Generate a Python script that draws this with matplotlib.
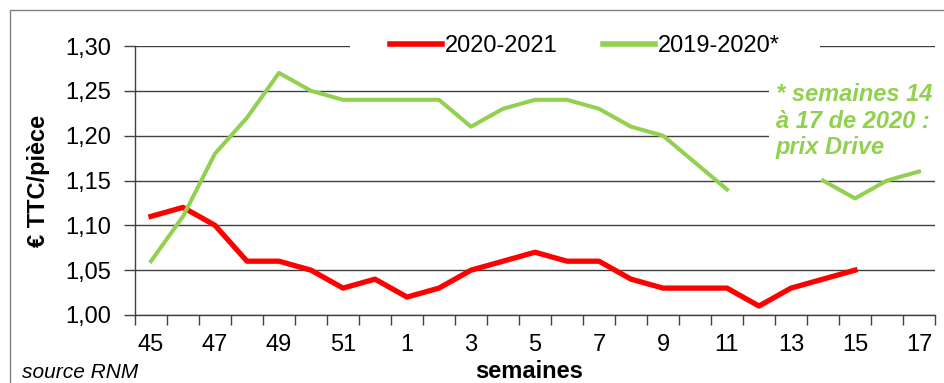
import numpy as np
import matplotlib.pyplot as plt
from matplotlib.patches import Rectangle
from matplotlib.ticker import FuncFormatter, FixedLocator

plt.rcParams['font.family'] = ['Liberation Sans', 'DejaVu Sans']

# semaines 45 à 52 puis 1 à 17
semaines = [45, 46, 47, 48, 49, 50, 51, 52] + list(range(1, 18))

prix_2020_2021 = [1.11, 1.12, 1.10, 1.06, 1.06, 1.05, 1.03, 1.04,
                  1.02, 1.03, 1.05, 1.06, 1.07, 1.06, 1.06, 1.04,
                  1.03, 1.03, 1.03, 1.01, 1.03, 1.04, 1.05, np.nan, np.nan]

prix_2019_2020 = [1.06, 1.11, 1.18, 1.22, 1.27, 1.25, 1.24, 1.24,
                  1.24, 1.24, 1.21, 1.23, 1.24, 1.24, 1.23, 1.21,
                  1.20, 1.17, 1.14, np.nan, np.nan, 1.15, 1.13, 1.15, 1.16]

ROUGE = '#FF0000'
VERT = '#92D050'

W, H = 945, 383
fig = plt.figure(figsize=(W / 100, H / 100), dpi=100)
ax = fig.add_axes([135 / W, 1 - 315 / H, 800 / W, (315 - 46) / H])

x = np.arange(len(semaines))
ax.plot(x, prix_2020_2021, color=ROUGE, lw=3.8, label='2020-2021', zorder=3)
ax.plot(x, prix_2019_2020, color=VERT, lw=2.9, label='2019-2020*', zorder=3)

ax.set_xlim(-0.5, len(semaines) - 0.5)
ax.set_ylim(1.00, 1.30)
ax.set_yticks(np.arange(1.00, 1.301, 0.05))
ax.yaxis.set_major_formatter(FuncFormatter(lambda v, p: f'{v:.2f}'.replace('.', ',')))
ax.grid(axis='y', color='#404040', lw=1.0, zorder=1)

ax.set_xticks(x[::2])
ax.set_xticklabels([str(s) for s in semaines[::2]])
ax.xaxis.set_minor_locator(FixedLocator(np.arange(-0.5, len(semaines), 1)))
ax.tick_params(axis='x', which='major', length=0, pad=14, labelsize=17)
ax.tick_params(axis='x', which='minor', length=7, width=1, color='#404040')
ax.tick_params(axis='y', length=8, width=1, color='#404040', pad=9, labelsize=17)

for s in ['top', 'right']:
    ax.spines[s].set_visible(False)
for s in ['left', 'bottom']:
    ax.spines[s].set_color('#404040')
    ax.spines[s].set_linewidth(1)

ax.set_ylabel('€ TTC/pièce', fontsize=17, fontweight='bold', labelpad=11)
fig.text(529 / W, 1 - 372 / H, 'semaines', fontsize=17, fontweight='bold',
         ha='center', va='center')
fig.text(22 / W, 1 - 373 / H, 'source RNM', fontsize=15, style='italic',
         ha='left', va='center')

# zone blanche de la légende sur la grille du haut
ax.add_patch(Rectangle((350 / W, 1 - 58 / H), 470 / W, 24 / H,
                       transform=fig.transFigure, facecolor='white',
                       edgecolor='none', clip_on=False, zorder=2))

leg = ax.legend(loc='center', bbox_to_anchor=(585 / W, 1 - 46 / H),
                bbox_transform=fig.transFigure, ncol=2, fontsize=17,
                handlelength=2.2, columnspacing=1.9, handletextpad=0.15,
                borderpad=0.2, frameon=False)
leg.set_zorder(5)
for h in leg.get_lines():
    h.set_linewidth(4)

# note sur les semaines 14 à 17 (prix Drive)
fig.text(776 / W, 1 - 83 / H, '* semaines 14\nà 17 de 2020 :\nprix Drive',
         color=VERT, fontsize=17, fontweight='bold', style='italic',
         ha='left', va='top', linespacing=1.2,
         bbox=dict(facecolor='white', edgecolor='none', pad=5), zorder=6)

# cadre autour du graphique
fig.add_artist(Rectangle((10 / W, -0.1), 2, 1.1 - 10 / H, transform=fig.transFigure,
                         fill=False, edgecolor='#808080', lw=1))

fig.savefig('out.png', dpi=100)
